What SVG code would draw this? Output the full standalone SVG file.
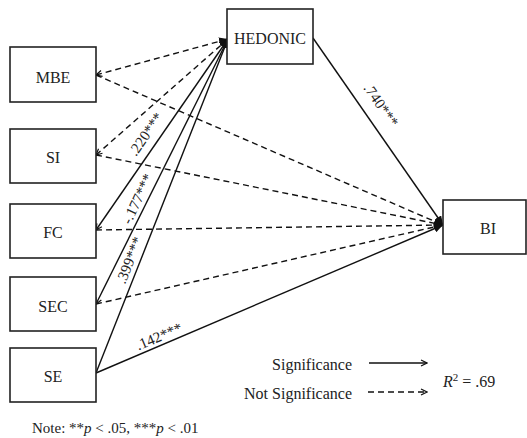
<svg xmlns="http://www.w3.org/2000/svg" width="527" height="438" viewBox="0 0 527 438" font-family="'Liberation Serif', 'Times New Roman', Times, serif">
<style>
.box{fill:#fff;stroke:#222;stroke-width:1.6}
.lbl{font-size:16px;fill:#222}
.coef{font-size:15px;fill:#222}
.sol{stroke:#111;stroke-width:1.4;fill:none}
.dash{stroke:#111;stroke-width:1.4;fill:none;stroke-dasharray:6 4}
</style>
<defs>
<marker id="ah" markerUnits="userSpaceOnUse" markerWidth="10" markerHeight="8" refX="9" refY="4" orient="auto">
<path d="M0,0 L9,4 L0,8 Z" fill="#111"/>
</marker>
<marker id="sh" markerUnits="userSpaceOnUse" markerWidth="8" markerHeight="8" refX="7" refY="4" orient="auto-start-reverse">
<path d="M1,1 L7,4 L1,7" fill="none" stroke="#111" stroke-width="1.2"/>
</marker>
</defs>
<g id="connectors">
<line class="dash" x1="96" y1="75" x2="228" y2="39" marker-start="url(#sh)" marker-end="url(#ah)"/>
<line class="dash" x1="96" y1="155" x2="228" y2="39" marker-start="url(#sh)" marker-end="url(#ah)"/>
<line class="sol" x1="96" y1="230" x2="228" y2="39" marker-start="url(#sh)" marker-end="url(#ah)"/>
<line class="sol" x1="96" y1="304" x2="228" y2="39" marker-start="url(#sh)" marker-end="url(#ah)"/>
<line class="sol" x1="96" y1="373" x2="228" y2="39" marker-end="url(#ah)"/>
<line class="dash" x1="96" y1="75" x2="443" y2="225" marker-end="url(#ah)"/>
<line class="dash" x1="96" y1="155" x2="443" y2="225" marker-end="url(#ah)"/>
<line class="dash" x1="96" y1="230" x2="443" y2="225" marker-end="url(#ah)"/>
<line class="dash" x1="96" y1="304" x2="443" y2="225" marker-end="url(#ah)"/>
<line class="sol" x1="96" y1="373" x2="443" y2="225" marker-end="url(#ah)"/>
<line class="sol" x1="313" y1="38" x2="443" y2="225" marker-end="url(#ah)"/>
<text class="coef" text-anchor="middle" transform="translate(150,137) rotate(-55.3)">.220***</text>
<text class="coef" text-anchor="middle" transform="translate(142,201) rotate(-64.5)">-.177***</text>
<text class="coef" text-anchor="middle" transform="translate(134,262) rotate(-68.4)">.399***</text>
<text class="coef" text-anchor="middle" transform="translate(161,341) rotate(-23.1)">.142***</text>
<text class="coef" text-anchor="middle" transform="translate(377,108) rotate(55.2)">.740***</text>
</g>
<g id="node-hedonic"><rect class="box" x="227" y="9" width="86" height="55"/><text class="lbl" x="270" y="44" text-anchor="middle">HEDONIC</text></g>
<g id="node-mbe"><rect class="box" x="10" y="47" width="86" height="55"/><text class="lbl" x="53" y="83" text-anchor="middle">MBE</text></g>
<g id="node-si"><rect class="box" x="10" y="129" width="86" height="54"/><text class="lbl" x="53" y="163" text-anchor="middle">SI</text></g>
<g id="node-fc"><rect class="box" x="10" y="204" width="86" height="54"/><text class="lbl" x="53" y="238" text-anchor="middle">FC</text></g>
<g id="node-sec"><rect class="box" x="10" y="277" width="86" height="54"/><text class="lbl" x="53" y="312" text-anchor="middle">SEC</text></g>
<g id="node-se"><rect class="box" x="10" y="348" width="86" height="54"/><text class="lbl" x="53" y="382" text-anchor="middle">SE</text></g>
<g id="node-bi"><rect class="box" x="443" y="200" width="83" height="54"/><text class="lbl" x="488" y="234" text-anchor="middle">BI</text></g>
<g id="legend">
<text class="lbl" x="352" y="370" text-anchor="end">Significance</text>
<text class="lbl" x="352" y="399" text-anchor="end">Not Significance</text>
<line class="sol" x1="369" y1="363" x2="427" y2="363" marker-end="url(#sh)"/>
<line class="dash" x1="368" y1="392" x2="427" y2="392" stroke-dasharray="5 3.5" marker-end="url(#sh)"/>
<text class="lbl" x="443" y="387"><tspan font-style="italic">R</tspan><tspan font-size="11" dy="-6">2</tspan><tspan dy="6"> = .69</tspan></text>
</g>
<text class="coef" x="32" y="433">Note: **<tspan font-style="italic">p</tspan> &lt; .05, ***<tspan font-style="italic">p</tspan> &lt; .01</text>
</svg>
